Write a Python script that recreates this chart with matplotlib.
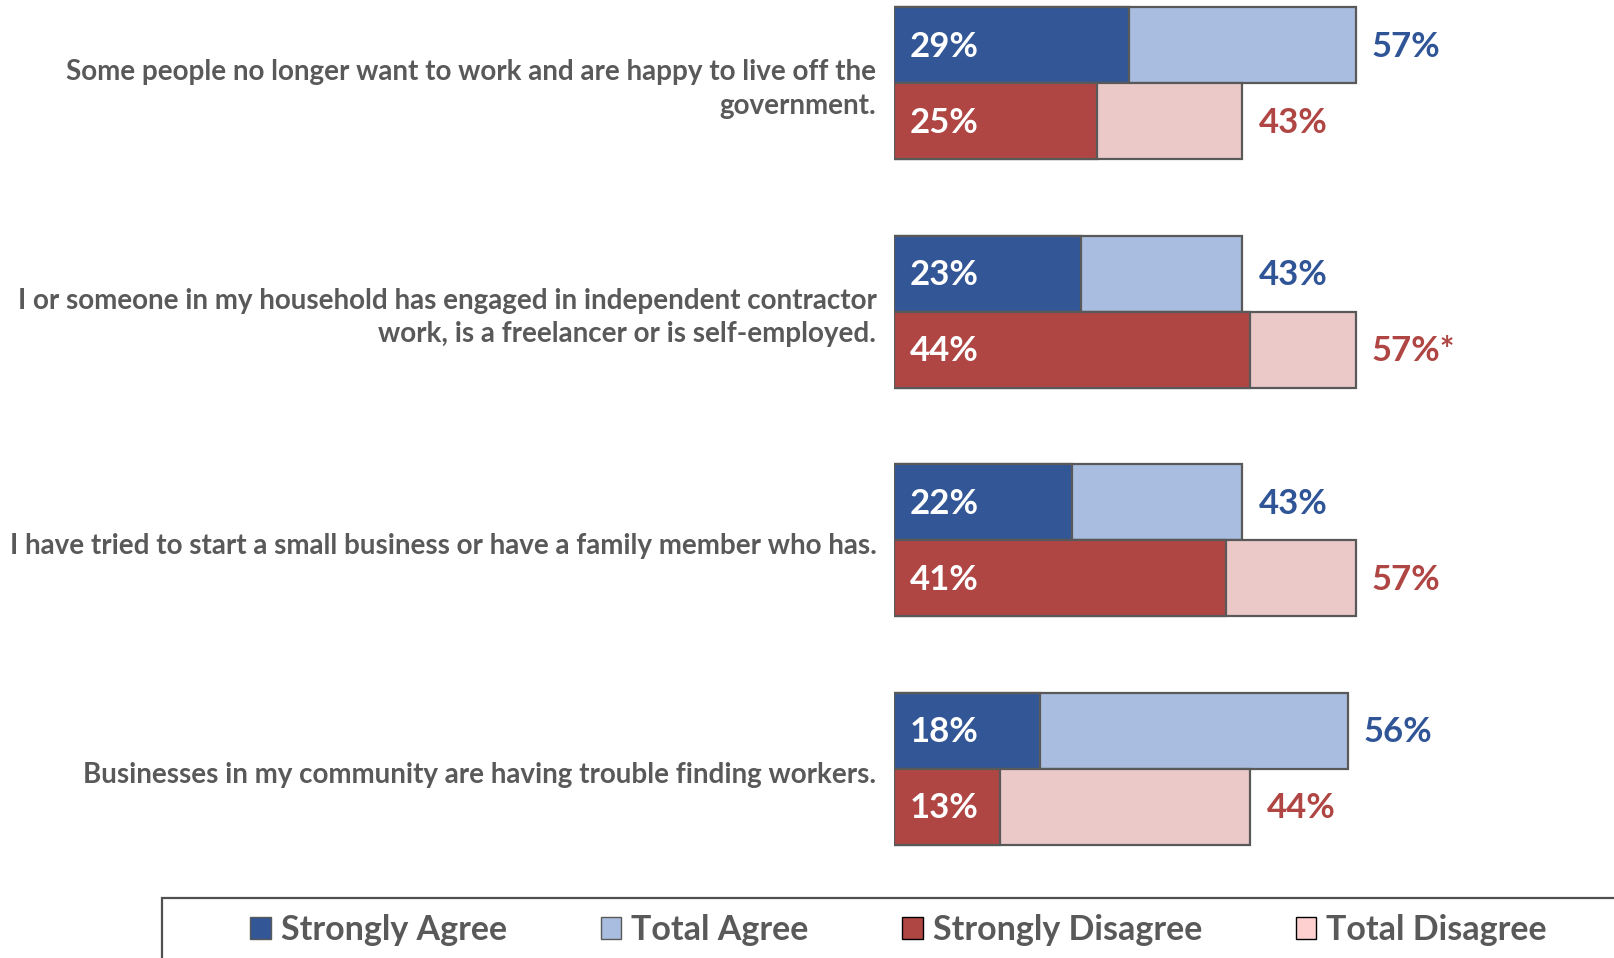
##  Barras sobrepostas: concordância por afirmação  ##
import numpy as np
import matplotlib.pyplot as plt
from matplotlib.patches import Patch, Rectangle

##  Dados  ##
statements = [
    'Some people no longer want to work and are happy to live off the\ngovernment.',
    'I or someone in my household has engaged in independent contractor\nwork, is a freelancer or is self-employed.',
    'I have tried to start a small business or have a family member who has.',
    'Businesses in my community are having trouble finding workers.',
]
strongly_agree = [29, 23, 22, 18]
total_agree = [57, 43, 43, 56]
strongly_disagree = [25, 44, 41, 13]
total_disagree = [43, 57, 57, 44]
disagree_marks = ['', '*', '', '']

##  Cores  ##
c_sa = '#335796'
c_ta = '#A9BDE0'
c_sd = '#B04644'
c_td = '#EBC9C9'
c_edge = '#595959'
c_text = '#595959'
font = 'Lato'

fig = plt.figure(figsize=(16.14, 9.58), dpi=100, facecolor='white')
W, H = 1614, 958
bar_left = 894.5
px_per = 8.09
pitch = 228.5
first_mid = 83.4
ax = fig.add_axes([bar_left / W, 0, 1 - bar_left / W, 1])
ax.set_xlim(0, (W - bar_left) / px_per)
ax.set_ylim((H - first_mid) / pitch, -first_mid / pitch)
ax.axis('off')

h = 76 / pitch
y = np.arange(len(statements))
ya = y - h / 2
yd = y + h / 2

kw = dict(height=h, edgecolor=c_edge, linewidth=1.6)
ax.barh(ya, total_agree, color=c_ta, **kw)
ax.barh(ya, strongly_agree, color=c_sa, **kw)
ax.barh(yd, total_disagree, color=c_td, **kw)
ax.barh(yd, strongly_disagree, color=c_sd, **kw)

val_fs = 25
pad_in = 15 / px_per
pad_out = 16 / px_per
for i in range(len(statements)):
    ax.text(pad_in, ya[i] + 0.005, f'{strongly_agree[i]}%', color='white', fontsize=val_fs,
            fontweight='bold', family=font, va='center', ha='left')
    ax.text(pad_in, yd[i] + 0.005, f'{strongly_disagree[i]}%', color='white', fontsize=val_fs,
            fontweight='bold', family=font, va='center', ha='left')
    ax.text(total_agree[i] + pad_out, ya[i] + 0.005, f'{total_agree[i]}%', color='#2F5597',
            fontsize=val_fs, fontweight='bold', family=font, va='center', ha='left')
    ax.text(total_disagree[i] + pad_out, yd[i] + 0.005,
            f'{total_disagree[i]}%{disagree_marks[i]}',
            color=c_sd, fontsize=val_fs, fontweight='bold', family=font,
            va='center', ha='left')
    ax.text(-18 / px_per, y[i] + 0.025, statements[i], color=c_text, fontsize=20,
            fontweight='bold', family=font, va='center', ha='right',
            multialignment='right', linespacing=1.35, clip_on=False)

##  Legenda  ##
handles = [Patch(facecolor=c_sa, edgecolor=c_edge, label='Strongly Agree'),
           Patch(facecolor=c_ta, edgecolor=c_edge, label='Total Agree'),
           Patch(facecolor=c_sd, edgecolor='black', label='Strongly Disagree'),
           Patch(facecolor='#FFD0D0', edgecolor='black', label='Total Disagree')]
leg = fig.legend(handles=handles, ncol=4, loc='center',
                 bbox_to_anchor=(898.6 / W, 28 / H), frameon=False,
                 prop={'family': font, 'weight': 'bold', 'size': 24.5},
                 handlelength=0.6, handleheight=0.6, handletextpad=0.3,
                 columnspacing=2.75, labelcolor=c_text)
fig.patches.append(Rectangle((161.6 / W, -0.05), 1, (H - 897.6) / H + 0.05,
                             transform=fig.transFigure, fill=False,
                             edgecolor='#505050', linewidth=1.6))

plt.savefig('out.png', dpi=100)
